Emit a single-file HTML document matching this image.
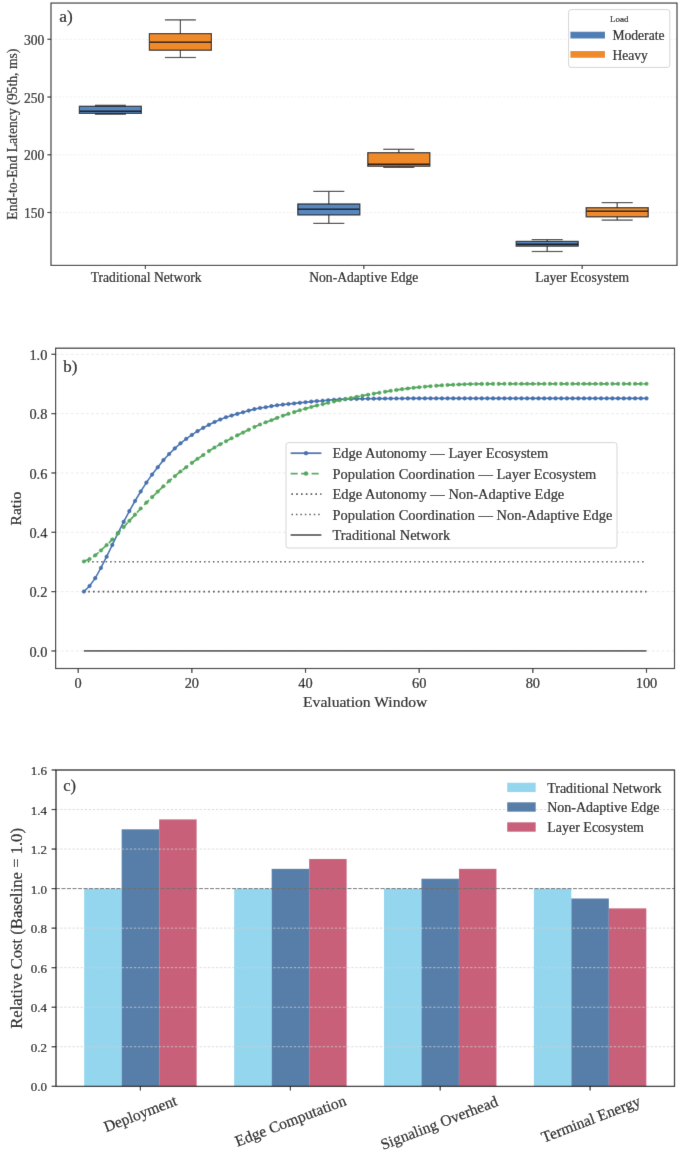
<!DOCTYPE html>
<html><head><meta charset="utf-8"><style>
html,body{margin:0;padding:0;background:#fff;}
svg{display:block;}
text{font-family:"Liberation Serif", serif;fill:#111;stroke:#111;stroke-width:0.2px;}
#wrap{width:685px;height:1152px;overflow:hidden;will-change:transform;}
</style></head><body><div id="wrap">
<svg width="685" height="1152" viewBox="0 0 685 1152">
<defs><filter id="soft" x="0" y="0" width="685" height="1152" filterUnits="userSpaceOnUse"><feConvolveMatrix order="3" kernelMatrix="0.00524 0.06192 0.00524 0.06192 0.73137 0.06192 0.00524 0.06192 0.00524" edgeMode="duplicate" preserveAlpha="false"/></filter></defs>
<g filter="url(#soft)">
<rect width="685" height="1152" fill="#fff"/>
<line x1="51.00" y1="39.30" x2="677.00" y2="39.30" stroke="#ececec" stroke-width="0.8" stroke-dasharray="2.2 1.6"/>
<line x1="51.00" y1="97.03" x2="677.00" y2="97.03" stroke="#ececec" stroke-width="0.8" stroke-dasharray="2.2 1.6"/>
<line x1="51.00" y1="154.77" x2="677.00" y2="154.77" stroke="#ececec" stroke-width="0.8" stroke-dasharray="2.2 1.6"/>
<line x1="51.00" y1="212.50" x2="677.00" y2="212.50" stroke="#ececec" stroke-width="0.8" stroke-dasharray="2.2 1.6"/>
<line x1="110.40" y1="105.30" x2="110.40" y2="106.30" stroke="#3a3a3a" stroke-width="1.2"/>
<line x1="110.40" y1="113.40" x2="110.40" y2="114.20" stroke="#3a3a3a" stroke-width="1.2"/>
<line x1="94.90" y1="105.30" x2="125.90" y2="105.30" stroke="#3a3a3a" stroke-width="1.2"/>
<line x1="94.90" y1="114.20" x2="125.90" y2="114.20" stroke="#3a3a3a" stroke-width="1.2"/>
<rect x="79.40" y="106.30" width="62.00" height="7.10" fill="#5687c0" stroke="#262626" stroke-width="1.2"/>
<line x1="79.40" y1="111.30" x2="141.40" y2="111.30" stroke="#1a1a1a" stroke-width="1.4"/>
<line x1="180.40" y1="19.90" x2="180.40" y2="33.60" stroke="#3a3a3a" stroke-width="1.2"/>
<line x1="180.40" y1="50.20" x2="180.40" y2="57.50" stroke="#3a3a3a" stroke-width="1.2"/>
<line x1="164.90" y1="19.90" x2="195.90" y2="19.90" stroke="#3a3a3a" stroke-width="1.2"/>
<line x1="164.90" y1="57.50" x2="195.90" y2="57.50" stroke="#3a3a3a" stroke-width="1.2"/>
<rect x="149.40" y="33.60" width="62.00" height="16.60" fill="#ef8a2c" stroke="#262626" stroke-width="1.2"/>
<line x1="149.40" y1="42.20" x2="211.40" y2="42.20" stroke="#1a1a1a" stroke-width="1.4"/>
<line x1="328.80" y1="191.40" x2="328.80" y2="204.00" stroke="#3a3a3a" stroke-width="1.2"/>
<line x1="328.80" y1="214.90" x2="328.80" y2="223.40" stroke="#3a3a3a" stroke-width="1.2"/>
<line x1="313.30" y1="191.40" x2="344.30" y2="191.40" stroke="#3a3a3a" stroke-width="1.2"/>
<line x1="313.30" y1="223.40" x2="344.30" y2="223.40" stroke="#3a3a3a" stroke-width="1.2"/>
<rect x="297.80" y="204.00" width="62.00" height="10.90" fill="#5687c0" stroke="#262626" stroke-width="1.2"/>
<line x1="297.80" y1="209.30" x2="359.80" y2="209.30" stroke="#1a1a1a" stroke-width="1.4"/>
<line x1="398.80" y1="149.30" x2="398.80" y2="152.70" stroke="#3a3a3a" stroke-width="1.2"/>
<line x1="398.80" y1="166.20" x2="398.80" y2="167.40" stroke="#3a3a3a" stroke-width="1.2"/>
<line x1="383.30" y1="149.30" x2="414.30" y2="149.30" stroke="#3a3a3a" stroke-width="1.2"/>
<line x1="383.30" y1="167.40" x2="414.30" y2="167.40" stroke="#3a3a3a" stroke-width="1.2"/>
<rect x="367.80" y="152.70" width="62.00" height="13.50" fill="#ef8a2c" stroke="#262626" stroke-width="1.2"/>
<line x1="367.80" y1="164.30" x2="429.80" y2="164.30" stroke="#1a1a1a" stroke-width="1.4"/>
<line x1="547.20" y1="239.60" x2="547.20" y2="241.40" stroke="#3a3a3a" stroke-width="1.2"/>
<line x1="547.20" y1="246.10" x2="547.20" y2="251.50" stroke="#3a3a3a" stroke-width="1.2"/>
<line x1="531.70" y1="239.60" x2="562.70" y2="239.60" stroke="#3a3a3a" stroke-width="1.2"/>
<line x1="531.70" y1="251.50" x2="562.70" y2="251.50" stroke="#3a3a3a" stroke-width="1.2"/>
<rect x="516.20" y="241.40" width="62.00" height="4.70" fill="#5687c0" stroke="#262626" stroke-width="1.2"/>
<line x1="516.20" y1="244.20" x2="578.20" y2="244.20" stroke="#1a1a1a" stroke-width="1.4"/>
<line x1="617.20" y1="202.60" x2="617.20" y2="207.70" stroke="#3a3a3a" stroke-width="1.2"/>
<line x1="617.20" y1="216.80" x2="617.20" y2="220.10" stroke="#3a3a3a" stroke-width="1.2"/>
<line x1="601.70" y1="202.60" x2="632.70" y2="202.60" stroke="#3a3a3a" stroke-width="1.2"/>
<line x1="601.70" y1="220.10" x2="632.70" y2="220.10" stroke="#3a3a3a" stroke-width="1.2"/>
<rect x="586.20" y="207.70" width="62.00" height="9.10" fill="#ef8a2c" stroke="#262626" stroke-width="1.2"/>
<line x1="586.20" y1="211.20" x2="648.20" y2="211.20" stroke="#1a1a1a" stroke-width="1.4"/>
<rect x="51.0" y="3.05" width="626.0" height="262.34999999999997" fill="none" stroke="#333" stroke-width="1.15"/>
<line x1="47.40" y1="39.30" x2="51.00" y2="39.30" stroke="#333" stroke-width="1.2"/>
<text x="44.30" y="45.00" font-size="13.6" text-anchor="end">300</text>
<line x1="47.40" y1="97.03" x2="51.00" y2="97.03" stroke="#333" stroke-width="1.2"/>
<text x="44.30" y="102.73" font-size="13.6" text-anchor="end">250</text>
<line x1="47.40" y1="154.77" x2="51.00" y2="154.77" stroke="#333" stroke-width="1.2"/>
<text x="44.30" y="160.47" font-size="13.6" text-anchor="end">200</text>
<line x1="47.40" y1="212.50" x2="51.00" y2="212.50" stroke="#333" stroke-width="1.2"/>
<text x="44.30" y="218.20" font-size="13.6" text-anchor="end">150</text>
<line x1="145.40" y1="265.40" x2="145.40" y2="269.00" stroke="#333" stroke-width="1.2"/>
<text x="146.10" y="282.00" font-size="13.6" text-anchor="middle">Traditional Network</text>
<line x1="363.80" y1="265.40" x2="363.80" y2="269.00" stroke="#333" stroke-width="1.2"/>
<text x="363.80" y="282.00" font-size="13.6" text-anchor="middle">Non-Adaptive Edge</text>
<line x1="582.20" y1="265.40" x2="582.20" y2="269.00" stroke="#333" stroke-width="1.2"/>
<text x="582.20" y="282.00" font-size="13.6" text-anchor="middle">Layer Ecosystem</text>
<text x="16.90" y="134.10" font-size="13.7" text-anchor="middle" transform="rotate(-90 16.9 134.1)">End-to-End Latency (95th, ms)</text>
<text x="59.30" y="21.90" font-size="17.4" text-anchor="start">a)</text>
<rect x="568.6" y="9.6" width="101.2" height="57.8" rx="2.5" fill="#fff" fill-opacity="0.85" stroke="#d0d0d0" stroke-width="0.9"/>
<text x="619.30" y="22.00" font-size="9.0" text-anchor="middle">Load</text>
<rect x="570.4" y="31.7" width="34.6" height="6.8" fill="#4f7eb5"/>
<rect x="570.4" y="51.0" width="34.6" height="6.8" fill="#ef8a2c"/>
<text x="612.40" y="40.40" font-size="13.6" text-anchor="start">Moderate</text>
<text x="612.40" y="59.50" font-size="13.6" text-anchor="start">Heavy</text>
<line x1="55.60" y1="650.95" x2="674.50" y2="650.95" stroke="#e6e6e6" stroke-width="0.8" stroke-dasharray="2.9 2.15"/>
<line x1="55.60" y1="591.62" x2="674.50" y2="591.62" stroke="#e6e6e6" stroke-width="0.8" stroke-dasharray="2.9 2.15"/>
<line x1="55.60" y1="532.29" x2="674.50" y2="532.29" stroke="#e6e6e6" stroke-width="0.8" stroke-dasharray="2.9 2.15"/>
<line x1="55.60" y1="472.96" x2="674.50" y2="472.96" stroke="#e6e6e6" stroke-width="0.8" stroke-dasharray="2.9 2.15"/>
<line x1="55.60" y1="413.63" x2="674.50" y2="413.63" stroke="#e6e6e6" stroke-width="0.8" stroke-dasharray="2.9 2.15"/>
<line x1="55.60" y1="354.30" x2="674.50" y2="354.30" stroke="#e6e6e6" stroke-width="0.8" stroke-dasharray="2.9 2.15"/>
<line x1="83.88" y1="650.95" x2="646.50" y2="650.95" stroke="#5a5a5a" stroke-width="1.8"/>
<line x1="83.48" y1="591.62" x2="646.50" y2="591.62" stroke="#444" stroke-width="1.7" stroke-dasharray="1.6 3.2"/>
<line x1="83.28" y1="561.75" x2="646.50" y2="561.75" stroke="#505050" stroke-width="1.5" stroke-dasharray="1.5 2.97"/>
<polyline points="83.88,591.56 89.57,586.05 95.25,578.13 100.93,567.95 106.62,556.70 112.30,544.90 117.98,533.10 123.66,521.81 129.35,511.11 135.03,501.00 140.71,491.49 146.40,482.62 152.08,474.60 157.76,467.29 163.44,460.12 169.13,454.00 174.81,448.40 180.49,443.35 186.18,438.89 191.86,434.94 197.54,431.16 203.23,427.85 208.91,424.83 214.59,421.95 220.27,419.48 225.96,417.24 231.64,415.57 237.32,413.88 243.01,412.30 248.69,410.61 254.37,409.12 260.06,407.98 265.74,407.21 271.42,406.15 277.11,405.26 282.79,404.62 288.47,404.03 294.15,403.43 299.84,402.84 305.52,402.24 311.20,401.65 316.89,401.10 322.57,400.71 328.25,400.19 333.94,399.77 339.62,399.42 345.30,399.16 350.98,398.98 356.67,398.88 362.35,398.79 368.03,398.72 373.72,398.66 379.40,398.61 385.08,398.57 390.76,398.53 396.45,398.49 402.13,398.45 407.81,398.41 413.50,398.39 419.18,398.38 424.86,398.38 430.55,398.38 436.23,398.38 441.91,398.38 447.59,398.38 453.28,398.38 458.96,398.38 464.64,398.38 470.33,398.38 476.01,398.38 481.69,398.38 487.38,398.38 493.06,398.38 498.74,398.38 504.42,398.38 510.11,398.38 515.79,398.38 521.47,398.38 527.16,398.38 532.84,398.38 538.52,398.38 544.21,398.38 549.89,398.38 555.57,398.38 561.25,398.38 566.94,398.38 572.62,398.38 578.30,398.38 583.99,398.38 589.67,398.38 595.35,398.38 601.04,398.38 606.72,398.38 612.40,398.38 618.09,398.38 623.77,398.38 629.45,398.38 635.13,398.38 640.82,398.38 646.50,398.38" fill="none" stroke="#4473b4" stroke-width="1.65"/>
<circle cx="83.88" cy="591.56" r="1.8" fill="#4473b4" stroke="#30609c" stroke-width="0.5"/>
<circle cx="89.57" cy="586.05" r="1.8" fill="#4473b4" stroke="#30609c" stroke-width="0.5"/>
<circle cx="95.25" cy="578.13" r="1.8" fill="#4473b4" stroke="#30609c" stroke-width="0.5"/>
<circle cx="100.93" cy="567.95" r="1.8" fill="#4473b4" stroke="#30609c" stroke-width="0.5"/>
<circle cx="106.62" cy="556.70" r="1.8" fill="#4473b4" stroke="#30609c" stroke-width="0.5"/>
<circle cx="112.30" cy="544.90" r="1.8" fill="#4473b4" stroke="#30609c" stroke-width="0.5"/>
<circle cx="117.98" cy="533.10" r="1.8" fill="#4473b4" stroke="#30609c" stroke-width="0.5"/>
<circle cx="123.66" cy="521.81" r="1.8" fill="#4473b4" stroke="#30609c" stroke-width="0.5"/>
<circle cx="129.35" cy="511.11" r="1.8" fill="#4473b4" stroke="#30609c" stroke-width="0.5"/>
<circle cx="135.03" cy="501.00" r="1.8" fill="#4473b4" stroke="#30609c" stroke-width="0.5"/>
<circle cx="140.71" cy="491.49" r="1.8" fill="#4473b4" stroke="#30609c" stroke-width="0.5"/>
<circle cx="146.40" cy="482.62" r="1.8" fill="#4473b4" stroke="#30609c" stroke-width="0.5"/>
<circle cx="152.08" cy="474.60" r="1.8" fill="#4473b4" stroke="#30609c" stroke-width="0.5"/>
<circle cx="157.76" cy="467.29" r="1.8" fill="#4473b4" stroke="#30609c" stroke-width="0.5"/>
<circle cx="163.44" cy="460.12" r="1.8" fill="#4473b4" stroke="#30609c" stroke-width="0.5"/>
<circle cx="169.13" cy="454.00" r="1.8" fill="#4473b4" stroke="#30609c" stroke-width="0.5"/>
<circle cx="174.81" cy="448.40" r="1.8" fill="#4473b4" stroke="#30609c" stroke-width="0.5"/>
<circle cx="180.49" cy="443.35" r="1.8" fill="#4473b4" stroke="#30609c" stroke-width="0.5"/>
<circle cx="186.18" cy="438.89" r="1.8" fill="#4473b4" stroke="#30609c" stroke-width="0.5"/>
<circle cx="191.86" cy="434.94" r="1.8" fill="#4473b4" stroke="#30609c" stroke-width="0.5"/>
<circle cx="197.54" cy="431.16" r="1.8" fill="#4473b4" stroke="#30609c" stroke-width="0.5"/>
<circle cx="203.23" cy="427.85" r="1.8" fill="#4473b4" stroke="#30609c" stroke-width="0.5"/>
<circle cx="208.91" cy="424.83" r="1.8" fill="#4473b4" stroke="#30609c" stroke-width="0.5"/>
<circle cx="214.59" cy="421.95" r="1.8" fill="#4473b4" stroke="#30609c" stroke-width="0.5"/>
<circle cx="220.27" cy="419.48" r="1.8" fill="#4473b4" stroke="#30609c" stroke-width="0.5"/>
<circle cx="225.96" cy="417.24" r="1.8" fill="#4473b4" stroke="#30609c" stroke-width="0.5"/>
<circle cx="231.64" cy="415.57" r="1.8" fill="#4473b4" stroke="#30609c" stroke-width="0.5"/>
<circle cx="237.32" cy="413.88" r="1.8" fill="#4473b4" stroke="#30609c" stroke-width="0.5"/>
<circle cx="243.01" cy="412.30" r="1.8" fill="#4473b4" stroke="#30609c" stroke-width="0.5"/>
<circle cx="248.69" cy="410.61" r="1.8" fill="#4473b4" stroke="#30609c" stroke-width="0.5"/>
<circle cx="254.37" cy="409.12" r="1.8" fill="#4473b4" stroke="#30609c" stroke-width="0.5"/>
<circle cx="260.06" cy="407.98" r="1.8" fill="#4473b4" stroke="#30609c" stroke-width="0.5"/>
<circle cx="265.74" cy="407.21" r="1.8" fill="#4473b4" stroke="#30609c" stroke-width="0.5"/>
<circle cx="271.42" cy="406.15" r="1.8" fill="#4473b4" stroke="#30609c" stroke-width="0.5"/>
<circle cx="277.11" cy="405.26" r="1.8" fill="#4473b4" stroke="#30609c" stroke-width="0.5"/>
<circle cx="282.79" cy="404.62" r="1.8" fill="#4473b4" stroke="#30609c" stroke-width="0.5"/>
<circle cx="288.47" cy="404.03" r="1.8" fill="#4473b4" stroke="#30609c" stroke-width="0.5"/>
<circle cx="294.15" cy="403.43" r="1.8" fill="#4473b4" stroke="#30609c" stroke-width="0.5"/>
<circle cx="299.84" cy="402.84" r="1.8" fill="#4473b4" stroke="#30609c" stroke-width="0.5"/>
<circle cx="305.52" cy="402.24" r="1.8" fill="#4473b4" stroke="#30609c" stroke-width="0.5"/>
<circle cx="311.20" cy="401.65" r="1.8" fill="#4473b4" stroke="#30609c" stroke-width="0.5"/>
<circle cx="316.89" cy="401.10" r="1.8" fill="#4473b4" stroke="#30609c" stroke-width="0.5"/>
<circle cx="322.57" cy="400.71" r="1.8" fill="#4473b4" stroke="#30609c" stroke-width="0.5"/>
<circle cx="328.25" cy="400.19" r="1.8" fill="#4473b4" stroke="#30609c" stroke-width="0.5"/>
<circle cx="333.94" cy="399.77" r="1.8" fill="#4473b4" stroke="#30609c" stroke-width="0.5"/>
<circle cx="339.62" cy="399.42" r="1.8" fill="#4473b4" stroke="#30609c" stroke-width="0.5"/>
<circle cx="345.30" cy="399.16" r="1.8" fill="#4473b4" stroke="#30609c" stroke-width="0.5"/>
<circle cx="350.98" cy="398.98" r="1.8" fill="#4473b4" stroke="#30609c" stroke-width="0.5"/>
<circle cx="356.67" cy="398.88" r="1.8" fill="#4473b4" stroke="#30609c" stroke-width="0.5"/>
<circle cx="362.35" cy="398.79" r="1.8" fill="#4473b4" stroke="#30609c" stroke-width="0.5"/>
<circle cx="368.03" cy="398.72" r="1.8" fill="#4473b4" stroke="#30609c" stroke-width="0.5"/>
<circle cx="373.72" cy="398.66" r="1.8" fill="#4473b4" stroke="#30609c" stroke-width="0.5"/>
<circle cx="379.40" cy="398.61" r="1.8" fill="#4473b4" stroke="#30609c" stroke-width="0.5"/>
<circle cx="385.08" cy="398.57" r="1.8" fill="#4473b4" stroke="#30609c" stroke-width="0.5"/>
<circle cx="390.76" cy="398.53" r="1.8" fill="#4473b4" stroke="#30609c" stroke-width="0.5"/>
<circle cx="396.45" cy="398.49" r="1.8" fill="#4473b4" stroke="#30609c" stroke-width="0.5"/>
<circle cx="402.13" cy="398.45" r="1.8" fill="#4473b4" stroke="#30609c" stroke-width="0.5"/>
<circle cx="407.81" cy="398.41" r="1.8" fill="#4473b4" stroke="#30609c" stroke-width="0.5"/>
<circle cx="413.50" cy="398.39" r="1.8" fill="#4473b4" stroke="#30609c" stroke-width="0.5"/>
<circle cx="419.18" cy="398.38" r="1.8" fill="#4473b4" stroke="#30609c" stroke-width="0.5"/>
<circle cx="424.86" cy="398.38" r="1.8" fill="#4473b4" stroke="#30609c" stroke-width="0.5"/>
<circle cx="430.55" cy="398.38" r="1.8" fill="#4473b4" stroke="#30609c" stroke-width="0.5"/>
<circle cx="436.23" cy="398.38" r="1.8" fill="#4473b4" stroke="#30609c" stroke-width="0.5"/>
<circle cx="441.91" cy="398.38" r="1.8" fill="#4473b4" stroke="#30609c" stroke-width="0.5"/>
<circle cx="447.59" cy="398.38" r="1.8" fill="#4473b4" stroke="#30609c" stroke-width="0.5"/>
<circle cx="453.28" cy="398.38" r="1.8" fill="#4473b4" stroke="#30609c" stroke-width="0.5"/>
<circle cx="458.96" cy="398.38" r="1.8" fill="#4473b4" stroke="#30609c" stroke-width="0.5"/>
<circle cx="464.64" cy="398.38" r="1.8" fill="#4473b4" stroke="#30609c" stroke-width="0.5"/>
<circle cx="470.33" cy="398.38" r="1.8" fill="#4473b4" stroke="#30609c" stroke-width="0.5"/>
<circle cx="476.01" cy="398.38" r="1.8" fill="#4473b4" stroke="#30609c" stroke-width="0.5"/>
<circle cx="481.69" cy="398.38" r="1.8" fill="#4473b4" stroke="#30609c" stroke-width="0.5"/>
<circle cx="487.38" cy="398.38" r="1.8" fill="#4473b4" stroke="#30609c" stroke-width="0.5"/>
<circle cx="493.06" cy="398.38" r="1.8" fill="#4473b4" stroke="#30609c" stroke-width="0.5"/>
<circle cx="498.74" cy="398.38" r="1.8" fill="#4473b4" stroke="#30609c" stroke-width="0.5"/>
<circle cx="504.42" cy="398.38" r="1.8" fill="#4473b4" stroke="#30609c" stroke-width="0.5"/>
<circle cx="510.11" cy="398.38" r="1.8" fill="#4473b4" stroke="#30609c" stroke-width="0.5"/>
<circle cx="515.79" cy="398.38" r="1.8" fill="#4473b4" stroke="#30609c" stroke-width="0.5"/>
<circle cx="521.47" cy="398.38" r="1.8" fill="#4473b4" stroke="#30609c" stroke-width="0.5"/>
<circle cx="527.16" cy="398.38" r="1.8" fill="#4473b4" stroke="#30609c" stroke-width="0.5"/>
<circle cx="532.84" cy="398.38" r="1.8" fill="#4473b4" stroke="#30609c" stroke-width="0.5"/>
<circle cx="538.52" cy="398.38" r="1.8" fill="#4473b4" stroke="#30609c" stroke-width="0.5"/>
<circle cx="544.21" cy="398.38" r="1.8" fill="#4473b4" stroke="#30609c" stroke-width="0.5"/>
<circle cx="549.89" cy="398.38" r="1.8" fill="#4473b4" stroke="#30609c" stroke-width="0.5"/>
<circle cx="555.57" cy="398.38" r="1.8" fill="#4473b4" stroke="#30609c" stroke-width="0.5"/>
<circle cx="561.25" cy="398.38" r="1.8" fill="#4473b4" stroke="#30609c" stroke-width="0.5"/>
<circle cx="566.94" cy="398.38" r="1.8" fill="#4473b4" stroke="#30609c" stroke-width="0.5"/>
<circle cx="572.62" cy="398.38" r="1.8" fill="#4473b4" stroke="#30609c" stroke-width="0.5"/>
<circle cx="578.30" cy="398.38" r="1.8" fill="#4473b4" stroke="#30609c" stroke-width="0.5"/>
<circle cx="583.99" cy="398.38" r="1.8" fill="#4473b4" stroke="#30609c" stroke-width="0.5"/>
<circle cx="589.67" cy="398.38" r="1.8" fill="#4473b4" stroke="#30609c" stroke-width="0.5"/>
<circle cx="595.35" cy="398.38" r="1.8" fill="#4473b4" stroke="#30609c" stroke-width="0.5"/>
<circle cx="601.04" cy="398.38" r="1.8" fill="#4473b4" stroke="#30609c" stroke-width="0.5"/>
<circle cx="606.72" cy="398.38" r="1.8" fill="#4473b4" stroke="#30609c" stroke-width="0.5"/>
<circle cx="612.40" cy="398.38" r="1.8" fill="#4473b4" stroke="#30609c" stroke-width="0.5"/>
<circle cx="618.09" cy="398.38" r="1.8" fill="#4473b4" stroke="#30609c" stroke-width="0.5"/>
<circle cx="623.77" cy="398.38" r="1.8" fill="#4473b4" stroke="#30609c" stroke-width="0.5"/>
<circle cx="629.45" cy="398.38" r="1.8" fill="#4473b4" stroke="#30609c" stroke-width="0.5"/>
<circle cx="635.13" cy="398.38" r="1.8" fill="#4473b4" stroke="#30609c" stroke-width="0.5"/>
<circle cx="640.82" cy="398.38" r="1.8" fill="#4473b4" stroke="#30609c" stroke-width="0.5"/>
<circle cx="646.50" cy="398.38" r="1.8" fill="#4473b4" stroke="#30609c" stroke-width="0.5"/>
<polyline points="83.88,561.44 89.57,559.06 95.25,555.34 100.93,550.44 106.62,545.11 112.30,539.44 117.98,533.32 123.66,527.10 129.35,520.88 135.03,514.67 140.71,508.49 146.40,502.62 152.08,497.16 157.76,491.62 163.44,486.25 169.13,481.01 174.81,476.18 180.49,471.53 186.18,467.26 191.86,462.91 197.54,458.81 203.23,455.08 208.91,451.11 214.59,447.51 220.27,444.26 225.96,441.25 231.64,438.29 237.32,435.37 243.01,432.62 248.69,429.75 254.37,427.04 260.06,424.47 265.74,422.30 271.42,420.19 277.11,417.91 282.79,415.79 288.47,413.81 294.15,412.15 299.84,410.26 305.52,408.64 311.20,406.96 316.89,405.47 322.57,404.20 328.25,402.80 333.94,401.49 339.62,400.30 345.30,399.15 350.98,398.03 356.67,396.91 362.35,395.81 368.03,394.74 373.72,393.70 379.40,392.71 385.08,391.74 390.76,390.81 396.45,389.94 402.13,389.16 407.81,388.46 413.50,387.82 419.18,387.22 424.86,386.68 430.55,386.19 436.23,385.75 441.91,385.35 447.59,385.00 453.28,384.71 458.96,384.47 464.64,384.25 470.33,384.08 476.01,383.98 481.69,383.92 487.38,383.88 493.06,383.85 498.74,383.83 504.42,383.82 510.11,383.82 515.79,383.82 521.47,383.82 527.16,383.82 532.84,383.82 538.52,383.82 544.21,383.82 549.89,383.82 555.57,383.82 561.25,383.82 566.94,383.82 572.62,383.82 578.30,383.82 583.99,383.82 589.67,383.82 595.35,383.82 601.04,383.82 606.72,383.82 612.40,383.82 618.09,383.82 623.77,383.82 629.45,383.82 635.13,383.82 640.82,383.82 646.50,383.82" fill="none" stroke="#52aa5c" stroke-width="1.8" stroke-dasharray="7 3.4"/>
<circle cx="83.88" cy="561.44" r="1.8" fill="#52aa5c" stroke="#3f9a4c" stroke-width="0.4"/>
<circle cx="89.57" cy="559.06" r="1.8" fill="#52aa5c" stroke="#3f9a4c" stroke-width="0.4"/>
<circle cx="95.25" cy="555.34" r="1.8" fill="#52aa5c" stroke="#3f9a4c" stroke-width="0.4"/>
<circle cx="100.93" cy="550.44" r="1.8" fill="#52aa5c" stroke="#3f9a4c" stroke-width="0.4"/>
<circle cx="106.62" cy="545.11" r="1.8" fill="#52aa5c" stroke="#3f9a4c" stroke-width="0.4"/>
<circle cx="112.30" cy="539.44" r="1.8" fill="#52aa5c" stroke="#3f9a4c" stroke-width="0.4"/>
<circle cx="117.98" cy="533.32" r="1.8" fill="#52aa5c" stroke="#3f9a4c" stroke-width="0.4"/>
<circle cx="123.66" cy="527.10" r="1.8" fill="#52aa5c" stroke="#3f9a4c" stroke-width="0.4"/>
<circle cx="129.35" cy="520.88" r="1.8" fill="#52aa5c" stroke="#3f9a4c" stroke-width="0.4"/>
<circle cx="135.03" cy="514.67" r="1.8" fill="#52aa5c" stroke="#3f9a4c" stroke-width="0.4"/>
<circle cx="140.71" cy="508.49" r="1.8" fill="#52aa5c" stroke="#3f9a4c" stroke-width="0.4"/>
<circle cx="146.40" cy="502.62" r="1.8" fill="#52aa5c" stroke="#3f9a4c" stroke-width="0.4"/>
<circle cx="152.08" cy="497.16" r="1.8" fill="#52aa5c" stroke="#3f9a4c" stroke-width="0.4"/>
<circle cx="157.76" cy="491.62" r="1.8" fill="#52aa5c" stroke="#3f9a4c" stroke-width="0.4"/>
<circle cx="163.44" cy="486.25" r="1.8" fill="#52aa5c" stroke="#3f9a4c" stroke-width="0.4"/>
<circle cx="169.13" cy="481.01" r="1.8" fill="#52aa5c" stroke="#3f9a4c" stroke-width="0.4"/>
<circle cx="174.81" cy="476.18" r="1.8" fill="#52aa5c" stroke="#3f9a4c" stroke-width="0.4"/>
<circle cx="180.49" cy="471.53" r="1.8" fill="#52aa5c" stroke="#3f9a4c" stroke-width="0.4"/>
<circle cx="186.18" cy="467.26" r="1.8" fill="#52aa5c" stroke="#3f9a4c" stroke-width="0.4"/>
<circle cx="191.86" cy="462.91" r="1.8" fill="#52aa5c" stroke="#3f9a4c" stroke-width="0.4"/>
<circle cx="197.54" cy="458.81" r="1.8" fill="#52aa5c" stroke="#3f9a4c" stroke-width="0.4"/>
<circle cx="203.23" cy="455.08" r="1.8" fill="#52aa5c" stroke="#3f9a4c" stroke-width="0.4"/>
<circle cx="208.91" cy="451.11" r="1.8" fill="#52aa5c" stroke="#3f9a4c" stroke-width="0.4"/>
<circle cx="214.59" cy="447.51" r="1.8" fill="#52aa5c" stroke="#3f9a4c" stroke-width="0.4"/>
<circle cx="220.27" cy="444.26" r="1.8" fill="#52aa5c" stroke="#3f9a4c" stroke-width="0.4"/>
<circle cx="225.96" cy="441.25" r="1.8" fill="#52aa5c" stroke="#3f9a4c" stroke-width="0.4"/>
<circle cx="231.64" cy="438.29" r="1.8" fill="#52aa5c" stroke="#3f9a4c" stroke-width="0.4"/>
<circle cx="237.32" cy="435.37" r="1.8" fill="#52aa5c" stroke="#3f9a4c" stroke-width="0.4"/>
<circle cx="243.01" cy="432.62" r="1.8" fill="#52aa5c" stroke="#3f9a4c" stroke-width="0.4"/>
<circle cx="248.69" cy="429.75" r="1.8" fill="#52aa5c" stroke="#3f9a4c" stroke-width="0.4"/>
<circle cx="254.37" cy="427.04" r="1.8" fill="#52aa5c" stroke="#3f9a4c" stroke-width="0.4"/>
<circle cx="260.06" cy="424.47" r="1.8" fill="#52aa5c" stroke="#3f9a4c" stroke-width="0.4"/>
<circle cx="265.74" cy="422.30" r="1.8" fill="#52aa5c" stroke="#3f9a4c" stroke-width="0.4"/>
<circle cx="271.42" cy="420.19" r="1.8" fill="#52aa5c" stroke="#3f9a4c" stroke-width="0.4"/>
<circle cx="277.11" cy="417.91" r="1.8" fill="#52aa5c" stroke="#3f9a4c" stroke-width="0.4"/>
<circle cx="282.79" cy="415.79" r="1.8" fill="#52aa5c" stroke="#3f9a4c" stroke-width="0.4"/>
<circle cx="288.47" cy="413.81" r="1.8" fill="#52aa5c" stroke="#3f9a4c" stroke-width="0.4"/>
<circle cx="294.15" cy="412.15" r="1.8" fill="#52aa5c" stroke="#3f9a4c" stroke-width="0.4"/>
<circle cx="299.84" cy="410.26" r="1.8" fill="#52aa5c" stroke="#3f9a4c" stroke-width="0.4"/>
<circle cx="305.52" cy="408.64" r="1.8" fill="#52aa5c" stroke="#3f9a4c" stroke-width="0.4"/>
<circle cx="311.20" cy="406.96" r="1.8" fill="#52aa5c" stroke="#3f9a4c" stroke-width="0.4"/>
<circle cx="316.89" cy="405.47" r="1.8" fill="#52aa5c" stroke="#3f9a4c" stroke-width="0.4"/>
<circle cx="322.57" cy="404.20" r="1.8" fill="#52aa5c" stroke="#3f9a4c" stroke-width="0.4"/>
<circle cx="328.25" cy="402.80" r="1.8" fill="#52aa5c" stroke="#3f9a4c" stroke-width="0.4"/>
<circle cx="333.94" cy="401.49" r="1.8" fill="#52aa5c" stroke="#3f9a4c" stroke-width="0.4"/>
<circle cx="339.62" cy="400.30" r="1.8" fill="#52aa5c" stroke="#3f9a4c" stroke-width="0.4"/>
<circle cx="345.30" cy="399.15" r="1.8" fill="#52aa5c" stroke="#3f9a4c" stroke-width="0.4"/>
<circle cx="350.98" cy="398.03" r="1.8" fill="#52aa5c" stroke="#3f9a4c" stroke-width="0.4"/>
<circle cx="356.67" cy="396.91" r="1.8" fill="#52aa5c" stroke="#3f9a4c" stroke-width="0.4"/>
<circle cx="362.35" cy="395.81" r="1.8" fill="#52aa5c" stroke="#3f9a4c" stroke-width="0.4"/>
<circle cx="368.03" cy="394.74" r="1.8" fill="#52aa5c" stroke="#3f9a4c" stroke-width="0.4"/>
<circle cx="373.72" cy="393.70" r="1.8" fill="#52aa5c" stroke="#3f9a4c" stroke-width="0.4"/>
<circle cx="379.40" cy="392.71" r="1.8" fill="#52aa5c" stroke="#3f9a4c" stroke-width="0.4"/>
<circle cx="385.08" cy="391.74" r="1.8" fill="#52aa5c" stroke="#3f9a4c" stroke-width="0.4"/>
<circle cx="390.76" cy="390.81" r="1.8" fill="#52aa5c" stroke="#3f9a4c" stroke-width="0.4"/>
<circle cx="396.45" cy="389.94" r="1.8" fill="#52aa5c" stroke="#3f9a4c" stroke-width="0.4"/>
<circle cx="402.13" cy="389.16" r="1.8" fill="#52aa5c" stroke="#3f9a4c" stroke-width="0.4"/>
<circle cx="407.81" cy="388.46" r="1.8" fill="#52aa5c" stroke="#3f9a4c" stroke-width="0.4"/>
<circle cx="413.50" cy="387.82" r="1.8" fill="#52aa5c" stroke="#3f9a4c" stroke-width="0.4"/>
<circle cx="419.18" cy="387.22" r="1.8" fill="#52aa5c" stroke="#3f9a4c" stroke-width="0.4"/>
<circle cx="424.86" cy="386.68" r="1.8" fill="#52aa5c" stroke="#3f9a4c" stroke-width="0.4"/>
<circle cx="430.55" cy="386.19" r="1.8" fill="#52aa5c" stroke="#3f9a4c" stroke-width="0.4"/>
<circle cx="436.23" cy="385.75" r="1.8" fill="#52aa5c" stroke="#3f9a4c" stroke-width="0.4"/>
<circle cx="441.91" cy="385.35" r="1.8" fill="#52aa5c" stroke="#3f9a4c" stroke-width="0.4"/>
<circle cx="447.59" cy="385.00" r="1.8" fill="#52aa5c" stroke="#3f9a4c" stroke-width="0.4"/>
<circle cx="453.28" cy="384.71" r="1.8" fill="#52aa5c" stroke="#3f9a4c" stroke-width="0.4"/>
<circle cx="458.96" cy="384.47" r="1.8" fill="#52aa5c" stroke="#3f9a4c" stroke-width="0.4"/>
<circle cx="464.64" cy="384.25" r="1.8" fill="#52aa5c" stroke="#3f9a4c" stroke-width="0.4"/>
<circle cx="470.33" cy="384.08" r="1.8" fill="#52aa5c" stroke="#3f9a4c" stroke-width="0.4"/>
<circle cx="476.01" cy="383.98" r="1.8" fill="#52aa5c" stroke="#3f9a4c" stroke-width="0.4"/>
<circle cx="481.69" cy="383.92" r="1.8" fill="#52aa5c" stroke="#3f9a4c" stroke-width="0.4"/>
<circle cx="487.38" cy="383.88" r="1.8" fill="#52aa5c" stroke="#3f9a4c" stroke-width="0.4"/>
<circle cx="493.06" cy="383.85" r="1.8" fill="#52aa5c" stroke="#3f9a4c" stroke-width="0.4"/>
<circle cx="498.74" cy="383.83" r="1.8" fill="#52aa5c" stroke="#3f9a4c" stroke-width="0.4"/>
<circle cx="504.42" cy="383.82" r="1.8" fill="#52aa5c" stroke="#3f9a4c" stroke-width="0.4"/>
<circle cx="510.11" cy="383.82" r="1.8" fill="#52aa5c" stroke="#3f9a4c" stroke-width="0.4"/>
<circle cx="515.79" cy="383.82" r="1.8" fill="#52aa5c" stroke="#3f9a4c" stroke-width="0.4"/>
<circle cx="521.47" cy="383.82" r="1.8" fill="#52aa5c" stroke="#3f9a4c" stroke-width="0.4"/>
<circle cx="527.16" cy="383.82" r="1.8" fill="#52aa5c" stroke="#3f9a4c" stroke-width="0.4"/>
<circle cx="532.84" cy="383.82" r="1.8" fill="#52aa5c" stroke="#3f9a4c" stroke-width="0.4"/>
<circle cx="538.52" cy="383.82" r="1.8" fill="#52aa5c" stroke="#3f9a4c" stroke-width="0.4"/>
<circle cx="544.21" cy="383.82" r="1.8" fill="#52aa5c" stroke="#3f9a4c" stroke-width="0.4"/>
<circle cx="549.89" cy="383.82" r="1.8" fill="#52aa5c" stroke="#3f9a4c" stroke-width="0.4"/>
<circle cx="555.57" cy="383.82" r="1.8" fill="#52aa5c" stroke="#3f9a4c" stroke-width="0.4"/>
<circle cx="561.25" cy="383.82" r="1.8" fill="#52aa5c" stroke="#3f9a4c" stroke-width="0.4"/>
<circle cx="566.94" cy="383.82" r="1.8" fill="#52aa5c" stroke="#3f9a4c" stroke-width="0.4"/>
<circle cx="572.62" cy="383.82" r="1.8" fill="#52aa5c" stroke="#3f9a4c" stroke-width="0.4"/>
<circle cx="578.30" cy="383.82" r="1.8" fill="#52aa5c" stroke="#3f9a4c" stroke-width="0.4"/>
<circle cx="583.99" cy="383.82" r="1.8" fill="#52aa5c" stroke="#3f9a4c" stroke-width="0.4"/>
<circle cx="589.67" cy="383.82" r="1.8" fill="#52aa5c" stroke="#3f9a4c" stroke-width="0.4"/>
<circle cx="595.35" cy="383.82" r="1.8" fill="#52aa5c" stroke="#3f9a4c" stroke-width="0.4"/>
<circle cx="601.04" cy="383.82" r="1.8" fill="#52aa5c" stroke="#3f9a4c" stroke-width="0.4"/>
<circle cx="606.72" cy="383.82" r="1.8" fill="#52aa5c" stroke="#3f9a4c" stroke-width="0.4"/>
<circle cx="612.40" cy="383.82" r="1.8" fill="#52aa5c" stroke="#3f9a4c" stroke-width="0.4"/>
<circle cx="618.09" cy="383.82" r="1.8" fill="#52aa5c" stroke="#3f9a4c" stroke-width="0.4"/>
<circle cx="623.77" cy="383.82" r="1.8" fill="#52aa5c" stroke="#3f9a4c" stroke-width="0.4"/>
<circle cx="629.45" cy="383.82" r="1.8" fill="#52aa5c" stroke="#3f9a4c" stroke-width="0.4"/>
<circle cx="635.13" cy="383.82" r="1.8" fill="#52aa5c" stroke="#3f9a4c" stroke-width="0.4"/>
<circle cx="640.82" cy="383.82" r="1.8" fill="#52aa5c" stroke="#3f9a4c" stroke-width="0.4"/>
<circle cx="646.50" cy="383.82" r="1.8" fill="#52aa5c" stroke="#3f9a4c" stroke-width="0.4"/>
<rect x="55.6" y="348.2" width="618.9" height="320.3" fill="none" stroke="#2a2a2a" stroke-width="1.2"/>
<line x1="51.40" y1="650.95" x2="55.60" y2="650.95" stroke="#2a2a2a" stroke-width="1.2"/>
<text x="47.40" y="656.65" font-size="14.4" text-anchor="end">0.0</text>
<line x1="51.40" y1="591.62" x2="55.60" y2="591.62" stroke="#2a2a2a" stroke-width="1.2"/>
<text x="47.40" y="597.32" font-size="14.4" text-anchor="end">0.2</text>
<line x1="51.40" y1="532.29" x2="55.60" y2="532.29" stroke="#2a2a2a" stroke-width="1.2"/>
<text x="47.40" y="537.99" font-size="14.4" text-anchor="end">0.4</text>
<line x1="51.40" y1="472.96" x2="55.60" y2="472.96" stroke="#2a2a2a" stroke-width="1.2"/>
<text x="47.40" y="478.66" font-size="14.4" text-anchor="end">0.6</text>
<line x1="51.40" y1="413.63" x2="55.60" y2="413.63" stroke="#2a2a2a" stroke-width="1.2"/>
<text x="47.40" y="419.33" font-size="14.4" text-anchor="end">0.8</text>
<line x1="51.40" y1="354.30" x2="55.60" y2="354.30" stroke="#2a2a2a" stroke-width="1.2"/>
<text x="47.40" y="360.00" font-size="14.4" text-anchor="end">1.0</text>
<line x1="78.20" y1="668.50" x2="78.20" y2="672.90" stroke="#2a2a2a" stroke-width="1.2"/>
<text x="78.20" y="687.60" font-size="14.4" text-anchor="middle">0</text>
<line x1="191.86" y1="668.50" x2="191.86" y2="672.90" stroke="#2a2a2a" stroke-width="1.2"/>
<text x="191.86" y="687.60" font-size="14.4" text-anchor="middle">20</text>
<line x1="305.52" y1="668.50" x2="305.52" y2="672.90" stroke="#2a2a2a" stroke-width="1.2"/>
<text x="305.52" y="687.60" font-size="14.4" text-anchor="middle">40</text>
<line x1="419.18" y1="668.50" x2="419.18" y2="672.90" stroke="#2a2a2a" stroke-width="1.2"/>
<text x="419.18" y="687.60" font-size="14.4" text-anchor="middle">60</text>
<line x1="532.84" y1="668.50" x2="532.84" y2="672.90" stroke="#2a2a2a" stroke-width="1.2"/>
<text x="532.84" y="687.60" font-size="14.4" text-anchor="middle">80</text>
<line x1="646.50" y1="668.50" x2="646.50" y2="672.90" stroke="#2a2a2a" stroke-width="1.2"/>
<text x="646.50" y="687.60" font-size="14.4" text-anchor="middle">100</text>
<text x="365.20" y="706.80" font-size="15.6" text-anchor="middle">Evaluation Window</text>
<text x="21.10" y="508.60" font-size="15.6" text-anchor="middle" transform="rotate(-90 21.1 508.6)">Ratio</text>
<text x="63.30" y="371.60" font-size="17" text-anchor="start">b)</text>
<rect x="286.0" y="442.6" width="331.0" height="105.4" rx="2.5" fill="#fff" stroke="#d0d0d0" stroke-width="0.9"/>
<line x1="290.60" y1="453.20" x2="321.40" y2="453.20" stroke="#4473b4" stroke-width="1.8"/>
<circle cx="306.00" cy="453.20" r="1.9" fill="#4473b4" stroke="#30609c" stroke-width="0.5"/>
<line x1="290.60" y1="473.60" x2="321.40" y2="473.60" stroke="#52aa5c" stroke-width="1.8" stroke-dasharray="7.1 3.4"/>
<circle cx="306.00" cy="473.60" r="2.0" fill="#52aa5c" stroke="#3f9a4c" stroke-width="0.4"/>
<line x1="291.40" y1="494.10" x2="321.40" y2="494.10" stroke="#444" stroke-width="1.7" stroke-dasharray="1.6 3.2"/>
<line x1="291.50" y1="514.50" x2="321.40" y2="514.50" stroke="#505050" stroke-width="1.5" stroke-dasharray="1.5 2.95"/>
<line x1="290.60" y1="535.00" x2="321.40" y2="535.00" stroke="#5a5a5a" stroke-width="1.8"/>
<text x="332.50" y="458.20" font-size="14.45" text-anchor="start">Edge Autonomy — Layer Ecosystem</text>
<text x="332.50" y="478.60" font-size="14.45" text-anchor="start">Population Coordination — Layer Ecosystem</text>
<text x="332.50" y="499.10" font-size="14.45" text-anchor="start">Edge Autonomy — Non-Adaptive Edge</text>
<text x="332.50" y="519.50" font-size="14.45" text-anchor="start">Population Coordination — Non-Adaptive Edge</text>
<text x="332.50" y="540.00" font-size="14.45" text-anchor="start">Traditional Network</text>
<rect x="84.15" y="888.60" width="37.50" height="197.70" fill="#95d6ef"/>
<rect x="121.65" y="829.29" width="37.50" height="257.01" fill="#567ea9"/>
<rect x="159.15" y="819.40" width="37.50" height="266.89" fill="#c8607a"/>
<rect x="234.15" y="888.60" width="37.50" height="197.70" fill="#95d6ef"/>
<rect x="271.65" y="868.83" width="37.50" height="217.47" fill="#567ea9"/>
<rect x="309.15" y="858.94" width="37.50" height="227.36" fill="#c8607a"/>
<rect x="383.95" y="888.60" width="37.50" height="197.70" fill="#95d6ef"/>
<rect x="421.45" y="878.71" width="37.50" height="207.59" fill="#567ea9"/>
<rect x="458.95" y="868.83" width="37.50" height="217.47" fill="#c8607a"/>
<rect x="533.85" y="888.60" width="37.50" height="197.70" fill="#95d6ef"/>
<rect x="571.35" y="898.49" width="37.50" height="187.81" fill="#567ea9"/>
<rect x="608.85" y="908.37" width="37.50" height="177.93" fill="#c8607a"/>
<line x1="56.00" y1="1046.76" x2="674.50" y2="1046.76" stroke="#cfcfcf" stroke-width="0.85" stroke-dasharray="2.4 1.7" stroke-opacity="0.85"/>
<line x1="56.00" y1="1007.22" x2="674.50" y2="1007.22" stroke="#cfcfcf" stroke-width="0.85" stroke-dasharray="2.4 1.7" stroke-opacity="0.85"/>
<line x1="56.00" y1="967.68" x2="674.50" y2="967.68" stroke="#cfcfcf" stroke-width="0.85" stroke-dasharray="2.4 1.7" stroke-opacity="0.85"/>
<line x1="56.00" y1="928.14" x2="674.50" y2="928.14" stroke="#cfcfcf" stroke-width="0.85" stroke-dasharray="2.4 1.7" stroke-opacity="0.85"/>
<line x1="56.00" y1="849.06" x2="674.50" y2="849.06" stroke="#cfcfcf" stroke-width="0.85" stroke-dasharray="2.4 1.7" stroke-opacity="0.85"/>
<line x1="56.00" y1="809.52" x2="674.50" y2="809.52" stroke="#cfcfcf" stroke-width="0.85" stroke-dasharray="2.4 1.7" stroke-opacity="0.85"/>
<line x1="56.00" y1="888.60" x2="674.50" y2="888.60" stroke="#707070" stroke-width="1.0" stroke-dasharray="4 1.5"/>
<rect x="56.0" y="770.0" width="618.5" height="316.4000000000001" fill="none" stroke="#222" stroke-width="1.3"/>
<line x1="51.60" y1="1086.30" x2="56.00" y2="1086.30" stroke="#222" stroke-width="1.2"/>
<text x="46.90" y="1091.30" font-size="13.0" text-anchor="end">0.0</text>
<line x1="51.60" y1="1046.76" x2="56.00" y2="1046.76" stroke="#222" stroke-width="1.2"/>
<text x="46.90" y="1051.76" font-size="13.0" text-anchor="end">0.2</text>
<line x1="51.60" y1="1007.22" x2="56.00" y2="1007.22" stroke="#222" stroke-width="1.2"/>
<text x="46.90" y="1012.22" font-size="13.0" text-anchor="end">0.4</text>
<line x1="51.60" y1="967.68" x2="56.00" y2="967.68" stroke="#222" stroke-width="1.2"/>
<text x="46.90" y="972.68" font-size="13.0" text-anchor="end">0.6</text>
<line x1="51.60" y1="928.14" x2="56.00" y2="928.14" stroke="#222" stroke-width="1.2"/>
<text x="46.90" y="933.14" font-size="13.0" text-anchor="end">0.8</text>
<line x1="51.60" y1="888.60" x2="56.00" y2="888.60" stroke="#222" stroke-width="1.2"/>
<text x="46.90" y="893.60" font-size="13.0" text-anchor="end">1.0</text>
<line x1="51.60" y1="849.06" x2="56.00" y2="849.06" stroke="#222" stroke-width="1.2"/>
<text x="46.90" y="854.06" font-size="13.0" text-anchor="end">1.2</text>
<line x1="51.60" y1="809.52" x2="56.00" y2="809.52" stroke="#222" stroke-width="1.2"/>
<text x="46.90" y="814.52" font-size="13.0" text-anchor="end">1.4</text>
<line x1="51.60" y1="769.98" x2="56.00" y2="769.98" stroke="#222" stroke-width="1.2"/>
<text x="46.90" y="774.98" font-size="13.0" text-anchor="end">1.6</text>
<line x1="140.40" y1="1086.40" x2="140.40" y2="1090.40" stroke="#222" stroke-width="1.2"/>
<text font-size="15.6" text-anchor="middle" transform="translate(140.20,1113.30) rotate(-21)" dominant-baseline="central">Deployment</text>
<line x1="290.40" y1="1086.40" x2="290.40" y2="1090.40" stroke="#222" stroke-width="1.2"/>
<text font-size="15.6" text-anchor="middle" transform="translate(290.40,1120.50) rotate(-21)" dominant-baseline="central">Edge Computation</text>
<line x1="440.20" y1="1086.40" x2="440.20" y2="1090.40" stroke="#222" stroke-width="1.2"/>
<text font-size="15.6" text-anchor="middle" transform="translate(439.00,1122.60) rotate(-21)" dominant-baseline="central">Signaling Overhead</text>
<line x1="590.10" y1="1086.40" x2="590.10" y2="1090.40" stroke="#222" stroke-width="1.2"/>
<text font-size="15.6" text-anchor="middle" transform="translate(590.70,1118.80) rotate(-21)" dominant-baseline="central">Terminal Energy</text>
<text x="22.00" y="928.40" font-size="16.6" text-anchor="middle" transform="rotate(-90 22.0 928.4)">Relative Cost (Baseline = 1.0)</text>
<text x="63.20" y="791.00" font-size="16.5" text-anchor="start">c)</text>
<rect x="507.2" y="782.70" width="28.5" height="9.4" fill="#95d6ef"/>
<text x="547.20" y="792.60" font-size="14.0" text-anchor="start">Traditional Network</text>
<rect x="507.2" y="802.30" width="28.5" height="9.4" fill="#567ea9"/>
<text x="547.20" y="812.20" font-size="14.0" text-anchor="start">Non-Adaptive Edge</text>
<rect x="507.2" y="822.30" width="28.5" height="9.4" fill="#c8607a"/>
<text x="547.20" y="832.20" font-size="14.0" text-anchor="start">Layer Ecosystem</text>
</g>
</svg></div>
</body></html>
